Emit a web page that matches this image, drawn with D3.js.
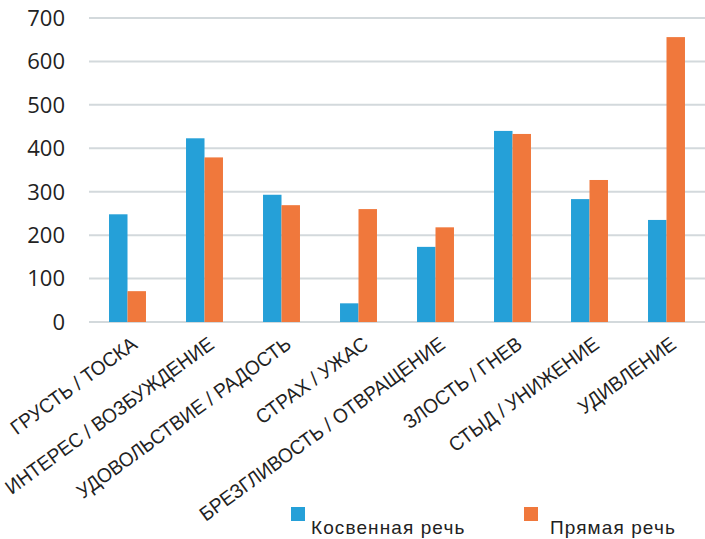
<!DOCTYPE html>
<html>
<head>
<meta charset="utf-8">
<script src="https://cdn.jsdelivr.net/npm/d3@7/dist/d3.min.js"></script>
<style>
    body { margin: 0; background: #fff; }
    svg { display: block; }
</style>
</head>
<body>
<div class="graphique"></div>
<script>
const categories = [
    "ГРУСТЬ / ТОСКА",
    "ИНТЕРЕС / ВОЗБУЖДЕНИЕ",
    "УДОВОЛЬСТВИЕ / РАДОСТЬ",
    "СТРАХ / УЖАС",
    "БРЕЗГЛИВОСТЬ / ОТВРАЩЕНИЕ",
    "ЗЛОСТЬ / ГНЕВ",
    "СТЫД / УНИЖЕНИЕ",
    "УДИВЛЕНИЕ"
];
const seriesNames = ["Косвенная речь", "Прямая речь"];
const indirectSpeech = [248, 423, 293, 43, 173, 440, 283, 235];
const directSpeech = [71, 379, 269, 260, 218, 433, 327, 656];
const yTicks = [0, 100, 200, 300, 400, 500, 600, 700];

const colors = ["#25a0d8", "#f0783c"];
const width = 705;
const height = 539;
const margin = { top: 18, right: 0, bottom: 217, left: 89 };

const svg = d3.select(".graphique")
    .append("svg")
    .attr("width", width)
    .attr("height", height);

const xScale = d3.scaleBand()
    .domain(categories)
    .range([margin.left, width - margin.right])
    .paddingInner(0.52)
    .paddingOuter(0.26);

const xSub = d3.scaleBand()
    .domain(seriesNames)
    .range([0, xScale.bandwidth()]);

const yScale = d3.scaleLinear()
    .domain([0, 700])
    .range([height - margin.bottom, margin.top]);

// grid
svg.append("g")
    .selectAll("line")
    .data(yTicks)
    .enter().append("line")
    .attr("x1", margin.left)
    .attr("x2", width - margin.right)
    .attr("y1", d => yScale(d))
    .attr("y2", d => yScale(d))
    .attr("stroke", "#d3d9dc")
    .attr("stroke-width", 2);

// y labels
svg.append("g")
    .selectAll("text")
    .data(yTicks)
    .enter().append("text")
    .attr("x", 65)
    .attr("y", d => yScale(d))
    .attr("dy", "0.36em")
    .attr("text-anchor", "end")
    .attr("font-family", "'Open Sans', sans-serif")
    .attr("font-size", 22)
    .attr("fill", "#222")
    .text(d => d);

// bars
const rows = categories.map((c, i) => ({ cat: c, values: [indirectSpeech[i], directSpeech[i]] }));

const groups = svg.append("g")
    .selectAll("g")
    .data(rows)
    .enter().append("g")
    .attr("transform", d => `translate(${xScale(d.cat)},0)`);

groups.selectAll("rect")
    .data(d => d.values.map((v, k) => ({ name: seriesNames[k], value: v, k })))
    .enter().append("rect")
    .attr("x", d => xSub(d.name))
    .attr("y", d => yScale(d.value))
    .attr("width", xSub.bandwidth())
    .attr("height", d => yScale(0) - yScale(d.value))
    .attr("fill", d => colors[d.k]);

// x labels (narrow look: squeeze along the baseline)
svg.append("g")
    .selectAll("text")
    .data(categories)
    .enter().append("text")
    .attr("transform", d => `translate(${xScale(d) + xScale.bandwidth() / 2 + 11},347) rotate(-36) scale(0.95,1)`)
    .attr("text-anchor", "end")
    .attr("font-family", "'Liberation Sans', Arial, sans-serif")
    .attr("font-size", 20)
    .attr("fill", "#222")
    .text(d => d);

// legend
const legendX = [291, 524];
const legend = svg.append("g")
    .selectAll("g")
    .data(seriesNames)
    .enter().append("g")
    .attr("transform", (d, i) => `translate(${legendX[i]},507)`);

legend.append("rect")
    .attr("width", 14)
    .attr("height", 14)
    .attr("fill", (d, i) => colors[i]);

legend.append("text")
    .attr("x", (d, i) => i === 0 ? 20 : 26)
    .attr("y", 27)
    .attr("font-family", "'Liberation Sans', Arial, sans-serif")
    .attr("font-size", 19)
    .attr("letter-spacing", 1.1)
    .attr("fill", "#222")
    .text(d => d);
</script>
</body>
</html>
